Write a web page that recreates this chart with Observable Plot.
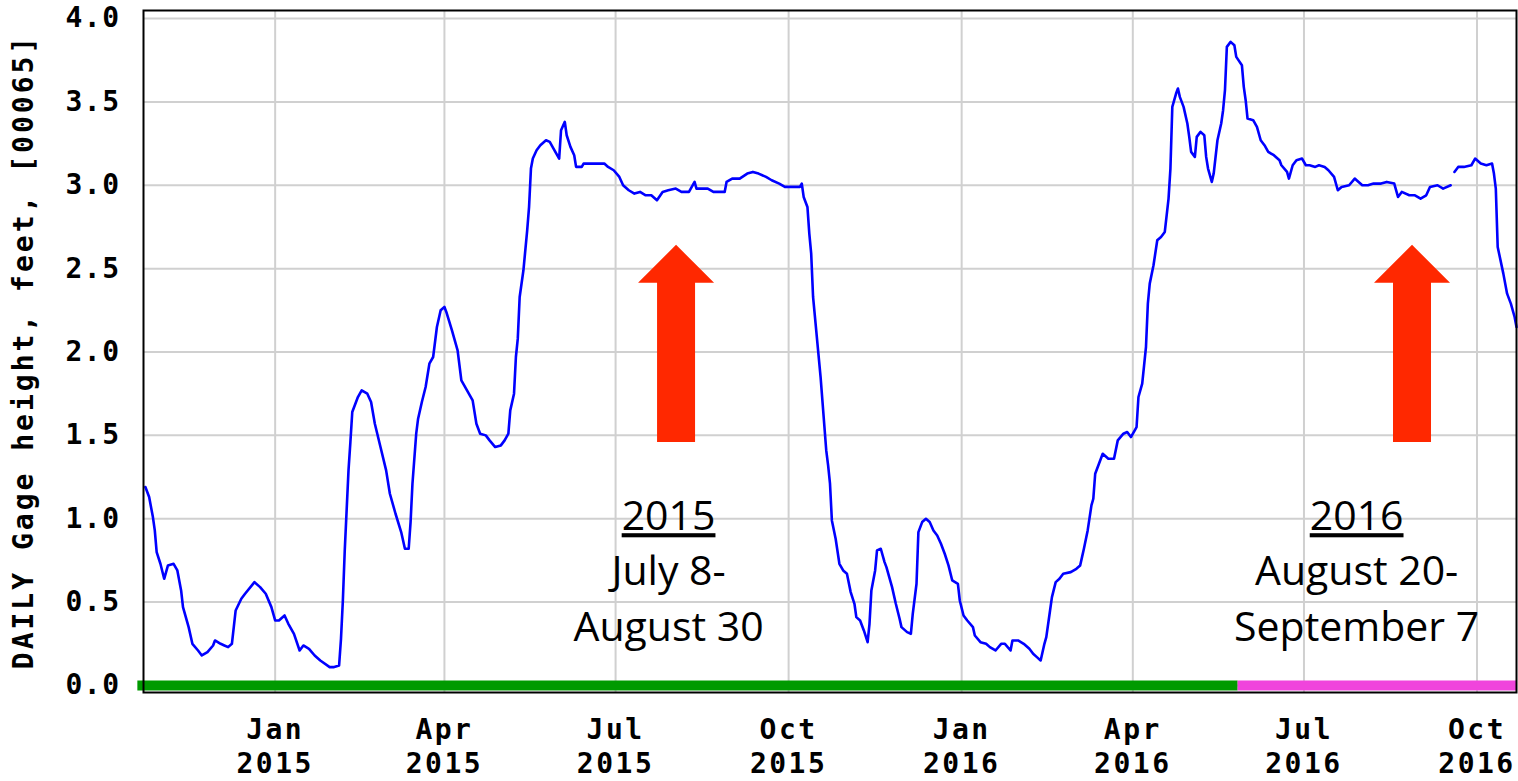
<!DOCTYPE html>
<html>
<head>
<meta charset="utf-8">
<script src="https://cdn.jsdelivr.net/npm/d3@7"></script>
<script src="https://cdn.jsdelivr.net/npm/@observablehq/plot@0.6"></script>
<style>
  html, body { margin: 0; padding: 0; background: #fff; }
  #chart svg { display: block; }
  [aria-label="x-axis tick label"] { font-size: 28px; letter-spacing: 2.5px; }
  [aria-label="y-axis tick label"] { font-size: 28px; letter-spacing: 1.5px; }
  [aria-label="y-axis label"] { font-size: 28px; letter-spacing: 3px; }
</style>
</head>
<body>
<div id="chart"></div>
<script>
// ---- Daily gage height (feet), parameter 00065 ----
const dates = [
"2014-10-24","2014-10-26","2014-10-28","2014-10-29","2014-10-30","2014-11-01","2014-11-03","2014-11-05","2014-11-08","2014-11-10",
"2014-11-12","2014-11-13","2014-11-16","2014-11-18","2014-11-21","2014-11-23","2014-11-26","2014-11-29","2014-11-30","2014-12-03",
"2014-12-05","2014-12-07","2014-12-09","2014-12-11","2014-12-14","2014-12-16","2014-12-21","2014-12-24","2014-12-27","2014-12-30",
"2015-01-01","2015-01-03","2015-01-06","2015-01-08","2015-01-11","2015-01-14","2015-01-16","2015-01-19","2015-01-22","2015-01-25",
"2015-01-30","2015-02-01","2015-02-04","2015-02-05","2015-02-06","2015-02-07","2015-02-09","2015-02-10","2015-02-11","2015-02-14",
"2015-02-16","2015-02-19","2015-02-21","2015-02-23","2015-02-26","2015-03-01","2015-03-03","2015-03-06","2015-03-09","2015-03-11",
"2015-03-13","2015-03-14","2015-03-15","2015-03-17","2015-03-18","2015-03-20","2015-03-22","2015-03-24","2015-03-26","2015-03-28",
"2015-03-30","2015-04-01","2015-04-02","2015-04-05","2015-04-08","2015-04-10","2015-04-13","2015-04-16","2015-04-18","2015-04-20",
"2015-04-23","2015-04-25","2015-04-28","2015-05-01","2015-05-03","2015-05-05","2015-05-06","2015-05-08","2015-05-09","2015-05-10",
"2015-05-11","2015-05-13","2015-05-15","2015-05-16","2015-05-17","2015-05-18","2015-05-20","2015-05-22","2015-05-25","2015-05-27",
"2015-05-29","2015-06-01","2015-06-02","2015-06-04","2015-06-05","2015-06-07","2015-06-09","2015-06-10","2015-06-13","2015-06-14",
"2015-06-19","2015-06-25","2015-06-27","2015-06-30","2015-07-03","2015-07-05","2015-07-08","2015-07-11","2015-07-14","2015-07-17",
"2015-07-20","2015-07-23","2015-07-26","2015-07-29","2015-08-02","2015-08-05","2015-08-09","2015-08-12","2015-08-13","2015-08-15",
"2015-08-19","2015-08-22","2015-08-28","2015-08-29","2015-09-01","2015-09-05","2015-09-09","2015-09-12","2015-09-15","2015-09-19",
"2015-09-22","2015-09-26","2015-09-29","2015-10-04","2015-10-07","2015-10-08","2015-10-09","2015-10-11","2015-10-12","2015-10-13",
"2015-10-14","2015-10-18","2015-10-21","2015-10-22","2015-10-23","2015-10-24","2015-10-26","2015-10-28","2015-10-30","2015-11-01",
"2015-11-03","2015-11-05","2015-11-06","2015-11-08","2015-11-10","2015-11-12","2015-11-13","2015-11-14","2015-11-16","2015-11-17",
"2015-11-19","2015-11-21","2015-11-22","2015-11-25","2015-11-27","2015-11-29","2015-11-30","2015-12-03","2015-12-05","2015-12-06",
"2015-12-08","2015-12-09","2015-12-11","2015-12-13","2015-12-15","2015-12-17","2015-12-19","2015-12-21","2015-12-23","2015-12-25",
"2015-12-27","2015-12-30","2015-12-31","2016-01-02","2016-01-04","2016-01-07","2016-01-08","2016-01-11","2016-01-14","2016-01-16",
"2016-01-19","2016-01-22","2016-01-24","2016-01-27","2016-01-28","2016-01-31","2016-02-03","2016-02-06","2016-02-08","2016-02-10",
"2016-02-12","2016-02-14","2016-02-15","2016-02-17","2016-02-18","2016-02-20","2016-02-22","2016-02-24","2016-02-28","2016-03-02",
"2016-03-04","2016-03-05","2016-03-06","2016-03-08","2016-03-10","2016-03-11","2016-03-12","2016-03-14","2016-03-16","2016-03-19",
"2016-03-22","2016-03-24","2016-03-27","2016-03-29","2016-03-31","2016-04-03","2016-04-04","2016-04-06","2016-04-07","2016-04-08",
"2016-04-09","2016-04-10","2016-04-12","2016-04-14","2016-04-16","2016-04-18","2016-04-20","2016-04-21","2016-04-22","2016-04-24",
"2016-04-25","2016-04-26","2016-04-28","2016-04-30","2016-05-01","2016-05-02","2016-05-04","2016-05-05","2016-05-07","2016-05-09",
"2016-05-10","2016-05-11","2016-05-13","2016-05-14","2016-05-16","2016-05-18","2016-05-19","2016-05-20","2016-05-21","2016-05-23",
"2016-05-25","2016-05-26","2016-05-29","2016-05-30","2016-05-31","2016-06-01","2016-06-04","2016-06-06","2016-06-08","2016-06-10",
"2016-06-12","2016-06-15","2016-06-18","2016-06-19","2016-06-22","2016-06-23","2016-06-25","2016-06-27","2016-06-30","2016-07-02",
"2016-07-04","2016-07-07","2016-07-09","2016-07-12","2016-07-14","2016-07-17","2016-07-19","2016-07-21","2016-07-25","2016-07-28",
"2016-07-29","2016-08-01","2016-08-04","2016-08-07","2016-08-11","2016-08-14","2016-08-18","2016-08-20","2016-08-22","2016-08-26",
"2016-08-29","2016-09-01","2016-09-04","2016-09-06","2016-09-10","2016-09-13","2016-09-17","2016-09-18","2016-09-19","2016-09-21",
"2016-09-24","2016-09-28","2016-09-30","2016-10-03","2016-10-06","2016-10-09","2016-10-10","2016-10-11","2016-10-12","2016-10-15",
"2016-10-17","2016-10-19","2016-10-21","2016-10-22"
];
const gageHeight = [
1.19,1.13,1.01,0.93,0.80,0.73,0.64,0.72,0.73,0.69,
0.57,0.47,0.35,0.25,0.21,0.18,0.20,0.24,0.27,0.25,
0.24,0.23,0.25,0.45,0.52,0.55,0.62,0.59,0.55,0.47,
0.39,0.39,0.42,0.37,0.31,0.21,0.24,0.22,0.18,0.15,
0.11,0.11,0.12,0.28,0.51,0.81,1.29,1.46,1.64,1.73,
1.77,1.75,1.70,1.57,1.43,1.29,1.15,1.03,0.92,0.82,
0.82,0.98,1.21,1.51,1.60,1.70,1.79,1.93,1.97,2.15,
2.25,2.27,2.24,2.13,2.01,1.83,1.77,1.71,1.57,1.51,
1.50,1.47,1.43,1.44,1.47,1.51,1.65,1.75,1.97,2.08,
2.33,2.49,2.73,2.87,3.10,3.16,3.21,3.24,3.27,3.26,
3.22,3.16,3.33,3.38,3.30,3.23,3.18,3.11,3.11,3.13,
3.13,3.13,3.11,3.09,3.05,3.00,2.97,2.95,2.96,2.94,
2.94,2.91,2.96,2.97,2.98,2.96,2.96,3.02,2.98,2.98,
2.98,2.96,2.96,3.02,3.04,3.04,3.07,3.08,3.07,3.05,
3.03,3.01,2.99,2.99,2.99,3.01,2.93,2.87,2.71,2.59,
2.33,1.85,1.41,1.32,1.21,0.99,0.88,0.73,0.69,0.67,
0.56,0.49,0.41,0.39,0.33,0.26,0.37,0.57,0.69,0.81,
0.82,0.74,0.71,0.59,0.49,0.40,0.35,0.32,0.31,0.43,
0.61,0.92,0.98,1.00,0.98,0.93,0.90,0.85,0.79,0.72,
0.63,0.61,0.51,0.42,0.39,0.35,0.30,0.26,0.25,0.23,
0.21,0.25,0.25,0.21,0.27,0.27,0.25,0.22,0.19,0.17,
0.15,0.25,0.29,0.45,0.53,0.62,0.64,0.67,0.68,0.70,
0.72,0.77,0.82,0.93,1.08,1.12,1.27,1.33,1.39,1.36,
1.36,1.47,1.51,1.52,1.49,1.55,1.73,1.81,1.92,2.03,
2.29,2.41,2.52,2.67,2.69,2.72,2.92,3.10,3.47,3.55,
3.58,3.53,3.47,3.37,3.29,3.20,3.17,3.29,3.32,3.30,
3.17,3.10,3.02,3.07,3.27,3.37,3.45,3.57,3.83,3.86,
3.84,3.77,3.72,3.59,3.51,3.40,3.39,3.35,3.27,3.24,
3.20,3.18,3.15,3.12,3.08,3.04,3.12,3.15,3.16,3.12,
3.12,3.11,3.12,3.11,3.09,3.05,2.97,2.99,3.00,3.04,
3.03,3.00,3.00,3.01,3.01,3.02,3.01,2.93,2.96,2.94,
2.94,2.92,2.94,2.99,3.00,2.98,3.00,null,3.08,3.11,
3.11,3.12,3.16,3.13,3.12,3.13,3.07,2.98,2.63,2.47,
2.35,2.29,2.21,2.15
];

// ---- Axes ----
const xDomain = ["2014-10-23", "2016-10-22"];
const xTickDates = ["2015-01-01","2015-04-01","2015-07-01","2015-10-01","2016-01-01","2016-04-01","2016-07-01","2016-10-01"];
const xTickLabels = ["Jan\n2015","Apr\n2015","Jul\n2015","Oct\n2015","Jan\n2016","Apr\n2016","Jul\n2016","Oct\n2016"];
const yTicks = [0, 0.5, 1, 1.5, 2, 2.5, 3, 3.5, 4];
const yLabel = "DAILY Gage height, feet, [00065]";

// ---- Data-approval status bar ----
const statusNames = ["Approved", "Provisional"];
const statusStart = ["2014-10-20", "2016-05-27"];
const statusEnd = ["2016-05-27", "2016-10-22"];

// ---- Annotations ----
const annTextDates = ["2015-07-29T04:00Z", "2016-07-29T00:00Z"];
const annArrowDates = ["2015-08-02T10:00Z", "2016-08-27T17:00Z"];
const annYears = ["2015", "2016"];
const annLine1 = ["July 8-", "August 20-"];
const annLine2 = ["August 30", "September 7"];

// ---- Build tables ----
const series = dates.map((d, i) => ({date: new Date(d), value: gageHeight[i]}));
const status = statusNames.map((s, i) => ({status: s, start: new Date(statusStart[i]), end: new Date(statusEnd[i])}));
const annotations = annYears.map((y, i) => ({
  date: new Date(annTextDates[i]), arrow: new Date(annArrowDates[i]),
  year: y, line1: annLine1[i], line2: annLine2[i]
}));
const xTicks = xTickDates.map(d => new Date(d));

const gridStyle = {stroke: "#d0d0d0", strokeOpacity: 1, strokeWidth: 2};
const annFont = {fontFamily: "'Open Sans', sans-serif", fontSize: 41, fontWeight: "normal", fill: "black", textAnchor: "middle"};

const plot = Plot.plot({
  width: 1518,
  height: 781,
  marginLeft: 143,
  marginRight: 2,
  marginTop: 10,
  marginBottom: 89,
  style: {fontFamily: "'DejaVu Sans Mono', monospace", fontWeight: "bold", fontSize: "28px", color: "black", background: "white"},
  x: {type: "utc", domain: xDomain.map(d => new Date(d))},
  y: {domain: [-0.042, 4.048]},
  color: {domain: statusNames, range: ["#009a00", "#f044dc"]},
  marks: [
    Plot.gridX({ticks: xTicks, ...gridStyle}),
    Plot.gridY({ticks: yTicks, ...gridStyle}),
    Plot.ruleY(status, {y: 0, x1: "start", x2: "end", stroke: "status", strokeWidth: 10}),
    Plot.line(series, {x: "date", y: "value", stroke: "#0000ff", strokeWidth: 2.6, curve: "linear"}),
    Plot.frame({stroke: "black", strokeWidth: 2}),
    Plot.axisX({ticks: xTicks, tickFormat: (d, i) => xTickLabels[i], tickSize: 0, tickPadding: 23, lineHeight: 1.2, label: null}),
    Plot.axisY({ticks: yTicks, tickFormat: d3.format(".1f"), tickSize: 0, tickPadding: 23,
      label: yLabel, labelAnchor: "center", labelArrow: "none", labelOffset: 130}),
    Plot.text(annotations, {x: "date", y: 1.01, text: "year", ...annFont}),
    Plot.text(annotations, {x: "date", y: 0.683, text: "line1", ...annFont}),
    Plot.text(annotations, {x: "date", y: 0.348, text: "line2", ...annFont})
  ]
});

document.getElementById("chart").appendChild(plot);

// underline the year headings
d3.select(plot).selectAll("text").filter(function () { return annYears.includes(this.textContent); })
  .style("text-decoration", "underline");

// block arrows positioned with the chart's own scales
const xs = plot.scale("x"), ys = plot.scale("y");
const arrowTip = 2.64, arrowBase = 1.457;
const headHalf = 38, shaftHalf = 19, headLen = 38;
const g = d3.select(plot).append("g").attr("aria-label", "arrows");
annotations.forEach(a => {
  const cx = xs.apply(a.arrow), tip = ys.apply(arrowTip), base = ys.apply(arrowBase), neck = tip + headLen;
  g.append("path")
    .attr("d", `M${cx},${tip}L${cx + headHalf},${neck}L${cx + shaftHalf},${neck}L${cx + shaftHalf},${base}L${cx - shaftHalf},${base}L${cx - shaftHalf},${neck}L${cx - headHalf},${neck}Z`)
    .attr("fill", "#ff2800");
});
</script>
</body>
</html>
